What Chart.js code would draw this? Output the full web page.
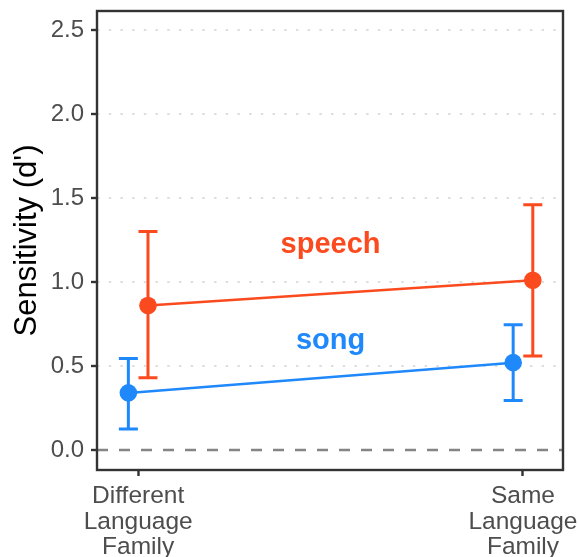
<!DOCTYPE html>
<html>
<head>
<meta charset="utf-8">
<script src="https://cdn.jsdelivr.net/npm/chart.js@4"></script>
<style>
  html, body { margin: 0; padding: 0; background: #fff; }
  #wrap { width: 579px; height: 557px; }
</style>
</head>
<body>
<div id="wrap"><canvas id="myChart"></canvas></div>
<script>
/* data */
const categories = [["Different", "Language", "Family"], ["Same", "Language", "Family"]];
const categoryPos = [1, 2];
const speechMean = [0.86, 1.01];
const speechLow = [0.43, 0.56];
const speechHigh = [1.30, 1.46];
const songMean = [0.34, 0.52];
const songLow = [0.125, 0.295];
const songHigh = [0.545, 0.745];
const yTicks = [0, 0.5, 1, 1.5, 2, 2.5];

const speechColor = "#fc4a1f";
const songColor = "#1f88fb";
const axisColor = "#333333";
const tickTextColor = "#4d4d4d";
const dodge = 0.0255;
const xMin = 0.893;
const xMax = 2.104;

Chart.defaults.font.family = "'Liberation Sans', Arial, Helvetica, sans-serif";

function points(means, shift) {
  return means.map((m, i) => ({ x: categoryPos[i] + shift, y: m }));
}

// error bars, group labels and panel frame
const extras = {
  id: "extras",
  beforeDatasetsDraw(chart) {
    const { ctx, scales: { x, y } } = chart;
    const groups = [
      { color: speechColor, low: speechLow, high: speechHigh, shift: dodge },
      { color: songColor, low: songLow, high: songHigh, shift: -dodge },
    ];
    ctx.save();
    ctx.lineWidth = 3;
    groups.forEach((g) => {
      ctx.strokeStyle = g.color;
      categoryPos.forEach((c, i) => {
        let px = x.getPixelForValue(c + g.shift);
        let y1 = y.getPixelForValue(g.low[i]);
        let y2 = y.getPixelForValue(g.high[i]);
        ctx.beginPath();
        ctx.moveTo(px, y1);
        ctx.lineTo(px, y2);
        ctx.moveTo(px - 9.5, y1);
        ctx.lineTo(px + 9.5, y1);
        ctx.moveTo(px - 9.5, y2);
        ctx.lineTo(px + 9.5, y2);
        ctx.stroke();
      });
    });
    ctx.restore();
  },
  afterDraw(chart) {
    const { ctx, chartArea: a, scales: { x, y } } = chart;
    ctx.save();
    ctx.font = "bold 29px 'Liberation Sans', Arial, sans-serif";
    ctx.textAlign = "center";
    ctx.textBaseline = "alphabetic";
    ctx.fillStyle = speechColor;
    ctx.fillText("speech", x.getPixelForValue(1.5), y.getPixelForValue(1.173));
    ctx.fillStyle = songColor;
    ctx.fillText("song", x.getPixelForValue(1.5), y.getPixelForValue(0.6));
    ctx.strokeStyle = axisColor;
    ctx.lineWidth = 2.4;
    ctx.strokeRect(a.left, a.top, a.right - a.left, a.bottom - a.top);
    ctx.restore();
  },
};

let ctx = document.getElementById("myChart");

let lineChart = new Chart(ctx, {
  type: "line",
  data: {
    datasets: [
      {
        data: [{ x: xMin, y: 0 }, { x: xMax, y: 0 }],
        borderColor: "#858585",
        borderWidth: 2.5,
        borderDash: [11, 11],
        pointRadius: 0,
      },
      {
        label: "speech",
        data: points(speechMean, dodge),
        borderColor: speechColor,
        backgroundColor: speechColor,
        borderWidth: 2.5,
        pointRadius: 8.8,
        pointBorderWidth: 0,
        pointBackgroundColor: speechColor,
      },
      {
        label: "song",
        data: points(songMean, -dodge),
        borderColor: songColor,
        backgroundColor: songColor,
        borderWidth: 2.5,
        pointRadius: 8.8,
        pointBorderWidth: 0,
        pointBackgroundColor: songColor,
      },
    ],
  },
  options: {
    responsive: true,
    maintainAspectRatio: false,
    animation: false,
    layout: { padding: { top: 11, right: 16, left: 0, bottom: 0 } },
    plugins: { legend: { display: false }, tooltip: { enabled: false } },
    scales: {
      x: {
        type: "linear",
        min: xMin,
        max: xMax,
        afterBuildTicks: (scale) => {
          scale.ticks = categoryPos.map((v) => ({ value: v }));
        },
        afterFit: (scale) => {
          scale.height = 87;
          scale.paddingLeft = 0;
          scale.paddingRight = 0;
        },
        ticks: {
          autoSkip: false,
          maxRotation: 0,
          padding: 8,
          color: tickTextColor,
          font: { size: 24.5, lineHeight: 1.04 },
          callback: (v) => categories[categoryPos.indexOf(v)],
        },
        grid: {
          drawOnChartArea: false,
          tickLength: 6,
          tickColor: axisColor,
          tickWidth: 2.4,
        },
        border: { display: false },
      },
      y: {
        min: -0.119,
        max: 2.613,
        afterBuildTicks: (scale) => {
          scale.ticks = yTicks.map((v) => ({ value: v }));
        },
        afterFit: (scale) => {
          scale.width = 97;
          scale.paddingTop = 0;
          scale.paddingBottom = 0;
        },
        ticks: {
          padding: 7,
          color: tickTextColor,
          font: { size: 24 },
          callback: (v) => v.toFixed(1),
        },
        grid: {
          color: (c) => (c.tick && c.tick.value === 0 ? "rgba(0,0,0,0)" : "#dedede"),
          lineWidth: 2,
          tickLength: 6,
          tickColor: axisColor,
          tickWidth: 2.4,
        },
        border: { display: false, dash: [2.5, 9.2] },
        title: {
          display: true,
          text: "Sensitivity (d')",
          color: "#000",
          font: { size: 31 },
          padding: { top: 9, bottom: 0 },
        },
      },
    },
  },
  plugins: [extras],
});
</script>
</body>
</html>
